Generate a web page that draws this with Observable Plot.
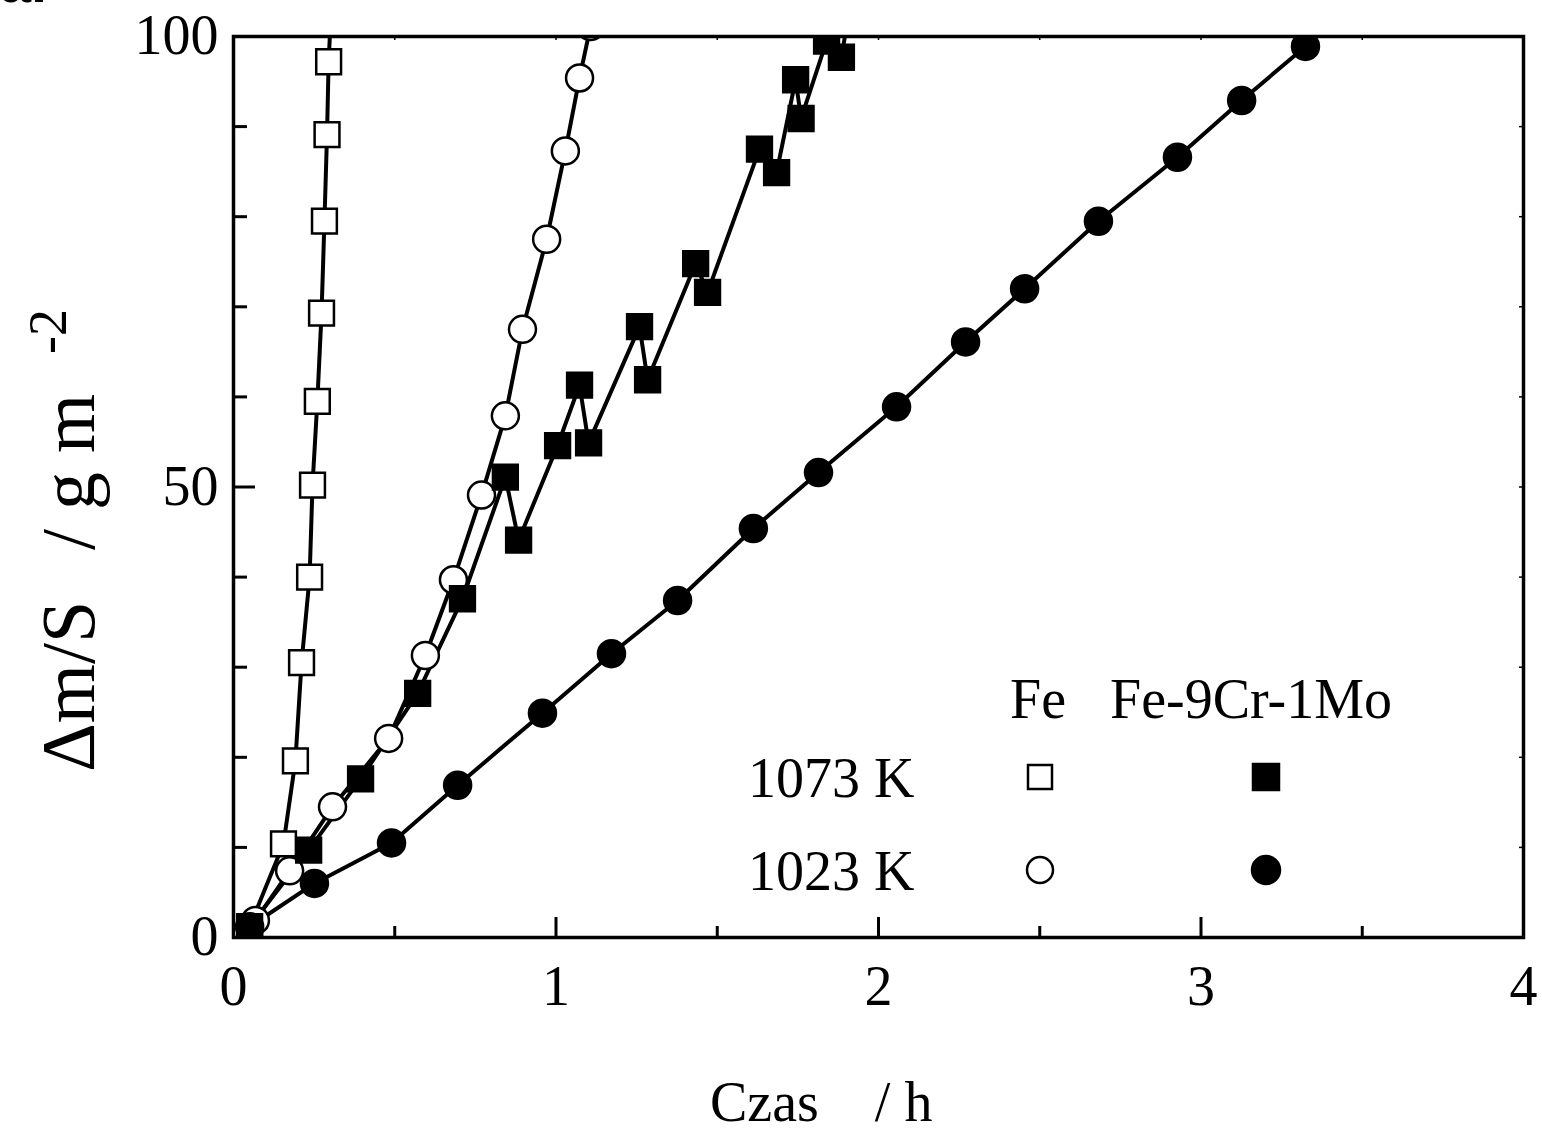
<!DOCTYPE html>
<html>
<head>
<meta charset="utf-8">
<script src="https://cdn.jsdelivr.net/npm/d3@7"></script>
<script src="https://cdn.jsdelivr.net/npm/@observablehq/plot@0.6"></script>
<style>
  html, body { margin: 0; padding: 0; background: #fff; }
  #chart { position: relative; width: 1542px; height: 1132px; overflow: hidden; }
  #corner { position: absolute; left: 0; top: -50px; font: bold 56px "Liberation Sans", Arial, sans-serif; color: #000; }
</style>
</head>
<body>
<div id="chart"><div id="corner">a.</div></div>
<script>
// ---- data (time in h, mass gain in g m^-2) ----
const fe1073X = [0.05, 0.155, 0.192, 0.211, 0.236, 0.245, 0.26, 0.273, 0.282, 0.29, 0.295, 0.304];
const fe1073Y = [1.2, 10.4, 19.6, 30.5, 40.0, 50.2, 59.5, 69.3, 79.5, 89.1, 97.2, 104];

const fe1023X = [0.068, 0.174, 0.307, 0.481, 0.595, 0.682, 0.769, 0.843, 0.896, 0.971, 1.029, 1.073, 1.107];
const fe1023Y = [1.9, 7.4, 14.5, 22.1, 31.3, 39.7, 49.1, 57.9, 67.5, 77.5, 87.3, 95.4, 101.1];

const cr1073X = [0.05, 0.233, 0.394, 0.571, 0.71, 0.843, 0.884, 1.005, 1.073, 1.101, 1.259, 1.284, 1.433, 1.47, 1.631, 1.684, 1.743, 1.76, 1.839, 1.885, 1.91];
const cr1073Y = [1.2, 9.7, 17.6, 27.1, 37.6, 51.1, 44.1, 54.6, 61.3, 54.9, 67.8, 61.9, 74.8, 71.6, 87.5, 84.9, 95.2, 90.9, 99.5, 97.7, 103];

const cr1023X = [0.05, 0.251, 0.49, 0.695, 0.958, 1.172, 1.377, 1.612, 1.814, 2.056, 2.27, 2.453, 2.682, 2.927, 3.126, 3.324];
const cr1023Y = [1.2, 6.0, 10.5, 16.9, 24.9, 31.5, 37.4, 45.4, 51.6, 58.9, 66.1, 72.0, 79.5, 86.6, 92.9, 98.9];

const xTickLabels = [0, 1, 2, 3, 4];
const xMinorTicks = [0.5, 1.5, 2.5, 3.5];
const yTickLabels = [0, 50, 100];
const yMinorTicks = [10, 20, 30, 40, 60, 70, 80, 90];

const seriesNames = ["Fe 1073 K", "Fe 1023 K", "Fe-9Cr-1Mo 1073 K", "Fe-9Cr-1Mo 1023 K"];
const seriesSymbols = ["square", "circle", "square", "circle"];
const seriesFills = ["white", "white", "black", "black"];

// ---- build table ----
const raw = [[fe1073X, fe1073Y], [fe1023X, fe1023Y], [cr1073X, cr1073Y], [cr1023X, cr1023Y]];
const rows = raw.flatMap(([xs, ys], i) => xs.map((x, j) => ({series: seriesNames[i], k: i, x, y: ys[j]})));

const W = 1542, H = 1132, mL = 233, mR = 19, mT = 36, mB = 195;
const fw = W - mL - mR, fh = H - mT - mB;
const FONT = '"Liberation Serif", "Times New Roman", serif';

const marks = [
  Plot.axisX(xTickLabels, {tickSize: 0, tickPadding: 28, label: null, fontSize: 56, tickFormat: d => String(d)}),
  Plot.axisY(yTickLabels, {tickSize: 0, tickPadding: 15, label: null, fontSize: 56, tickFormat: d => String(d)}),
  // inward ticks
  Plot.tickX(xTickLabels, {x: d => d, insetTop: fh - 20, strokeWidth: 3}),
  Plot.tickX(xMinorTicks, {x: d => d, insetTop: fh - 11, strokeWidth: 3}),
  Plot.tickX(xTickLabels.concat(xMinorTicks), {x: d => d, insetBottom: fh - 4, strokeWidth: 1.5}),
  Plot.tickY(yTickLabels, {y: d => d, insetRight: fw - 22, strokeWidth: 3}),
  Plot.tickY(yMinorTicks, {y: d => d, insetRight: fw - 14, strokeWidth: 3}),
  Plot.tickY(yTickLabels.concat(yMinorTicks), {y: d => d, insetLeft: fw - 4, strokeWidth: 1.5}),
  Plot.line(rows, {x: "x", y: "y", z: "series", stroke: "black", strokeWidth: 4, clip: true})
];
seriesNames.forEach((s, i) => {
  marks.push(Plot.dot(rows.filter(d => d.k === i), {
    x: "x", y: "y", symbol: () => seriesSymbols[i],
    r: seriesSymbols[i] === "square" ? 14 : 13.5,
    fill: seriesFills[i], stroke: "black", strokeWidth: 2.5, clip: true
  }));
});
marks.push(Plot.frame({stroke: "black", strokeWidth: 3.5}));

const chart = Plot.plot({
  width: W, height: H,
  marginLeft: mL, marginRight: mR, marginTop: mT, marginBottom: mB,
  x: {domain: [0, 4]},
  y: {domain: [0, 100]},
  symbol: {type: "identity"},
  style: {fontFamily: FONT, fontSize: "56px", color: "black", background: "white"},
  marks
});
document.getElementById("chart").appendChild(chart);

// ---- labels and legend ----
const svg = d3.select(chart);
const g = svg.append("g").attr("font-family", FONT).attr("font-size", 56)
  .attr("fill", "black").attr("text-anchor", "start");

g.append("text").attr("x", 710).attr("y", 1121).style("white-space", "pre")
  .text("Czas\u00a0\u00a0\u00a0\u00a0/ h");

const yl = g.append("text").attr("transform", "translate(94,772) rotate(-90)")
  .attr("font-size", 76).style("white-space", "pre");
yl.append("tspan").attr("x", 0).text("\u0394m/S");
yl.append("tspan").attr("x", 222).text("/ g m");
yl.append("tspan").attr("x", 418).attr("dy", -28).attr("font-size", 54).text("-2");

g.append("text").attr("x", 1010).attr("y", 718).text("Fe");
g.append("text").attr("x", 1110).attr("y", 718).text("Fe-9Cr-1Mo");
g.append("text").attr("x", 748).attr("y", 797).text("1073 K");
g.append("text").attr("x", 748).attr("y", 890).text("1023 K");

const lg = svg.append("g").attr("stroke", "black").attr("stroke-width", 2.5);
lg.append("rect").attr("x", 1028).attr("y", 765).attr("width", 24).attr("height", 24).attr("fill", "white");
lg.append("rect").attr("x", 1253).attr("y", 764).attr("width", 26).attr("height", 26).attr("fill", "black");
lg.append("circle").attr("cx", 1040).attr("cy", 870).attr("r", 13).attr("fill", "white");
lg.append("circle").attr("cx", 1266).attr("cy", 870).attr("r", 14).attr("fill", "black");
</script>
</body>
</html>
